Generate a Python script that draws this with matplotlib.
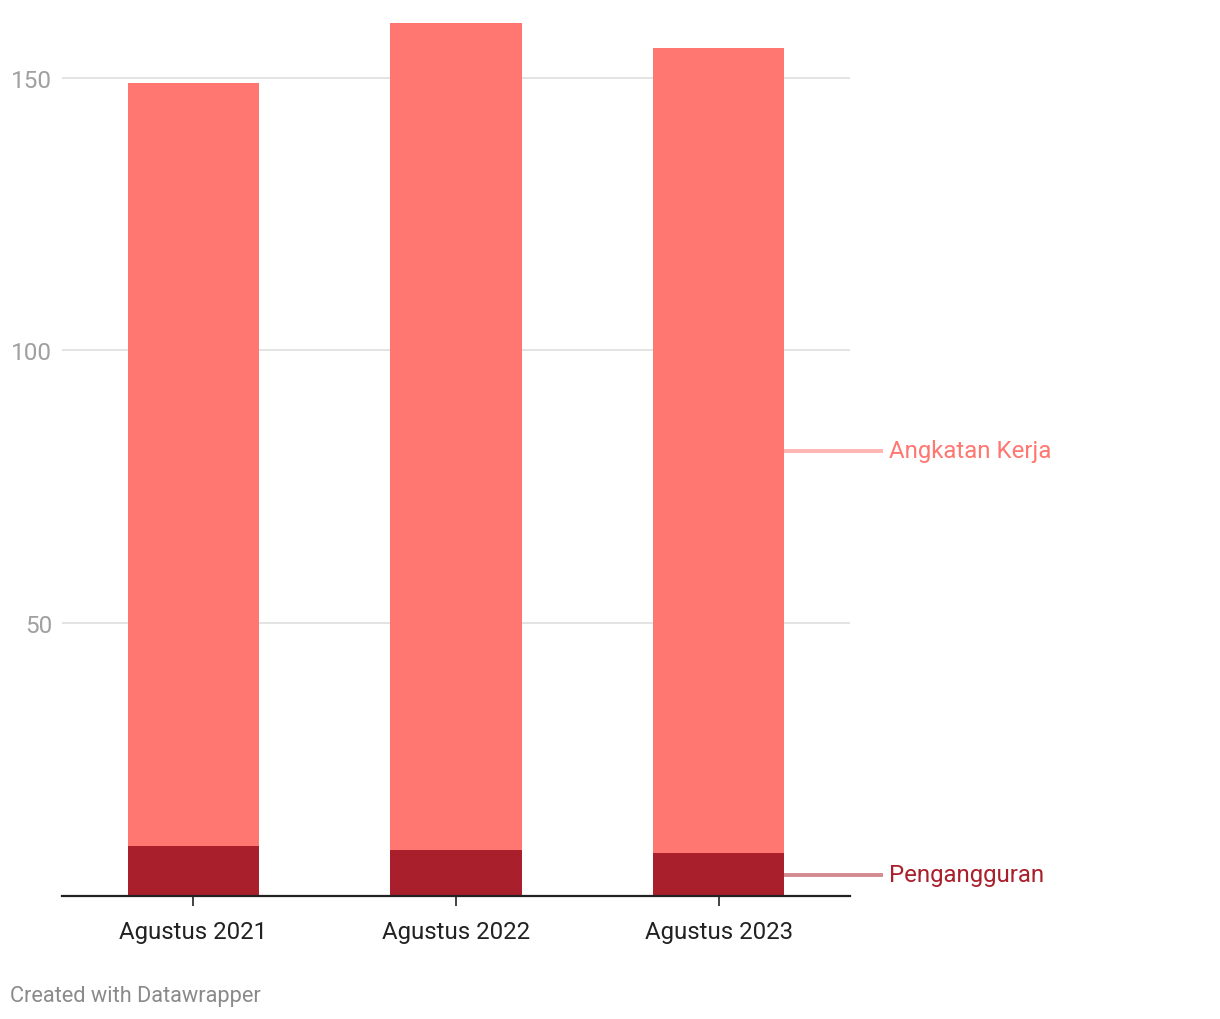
import matplotlib.pyplot as plt

# data (juta orang)
periods = ['Agustus 2021', 'Agustus 2022', 'Agustus 2023']
pengangguran = [9.1, 8.4, 7.8]
angkatan_kerja = [139.9, 151.6, 147.6]
y_ticks = [50, 100, 150]

col_ak = '#ff7770'
col_peng = '#a91f2b'

plt.rcParams['font.family'] = ['Roboto', 'DejaVu Sans']

fig = plt.figure(figsize=(12.2, 10.2), dpi=100)
ax = fig.add_axes([62 / 1220, 123 / 1020, 788 / 1220, 873 / 1020])

x = list(range(len(periods)))
ax.bar(x, pengangguran, width=0.5, color=col_peng, zorder=3)
ax.bar(x, angkatan_kerja, width=0.5, bottom=pengangguran, color=col_ak, zorder=3)

ax.set_xlim(-0.5, 2.5)
ax.set_ylim(0, 160)

# grid
for t in y_ticks:
    ax.axhline(t, color='#e3e3e3', lw=1.4, zorder=1)
ax.set_yticks(y_ticks)
ax.set_yticklabels([str(t) for t in y_ticks], color='#a0a0a0', fontsize=17.5)
ax.tick_params(axis='y', length=0, pad=7)

ax.set_xticks(x)
ax.set_xticklabels(periods, fontsize=17.3, color='#222222')
ax.tick_params(axis='x', length=7, width=1.2, color='#222222', pad=10)

for s in ['top', 'right', 'left']:
    ax.spines[s].set_visible(False)
ax.spines['bottom'].set_linewidth(1.6)
ax.spines['bottom'].set_color('#222222')
ax.spines['bottom'].set_zorder(4)

# direct labels at the last bar's segment middles
last = len(periods) - 1
y_peng = pengangguran[last] / 2
y_ak = pengangguran[last] + angkatan_kerja[last] / 2
x0 = last + 0.25
x1 = last + 0.625
ax.plot([x0, x1], [y_ak, y_ak], color='#ffb6b2', lw=2.8, clip_on=False, solid_capstyle='butt')
ax.plot([x0, x1], [y_peng, y_peng], color='#d48a91', lw=2.8, clip_on=False, solid_capstyle='butt')
ax.text(x1 + 0.025, y_ak, 'Angkatan Kerja', color=col_ak, fontsize=17.3, va='center', ha='left')
ax.text(x1 + 0.025, y_peng, 'Pengangguran', color=col_peng, fontsize=17.3, va='center', ha='left')

fig.text(10 / 1220, 1 - 997 / 1020, 'Created with Datawrapper', color='#8a8a8a', fontsize=15.7, va='center', ha='left')

fig.savefig('out.png', dpi=100)
